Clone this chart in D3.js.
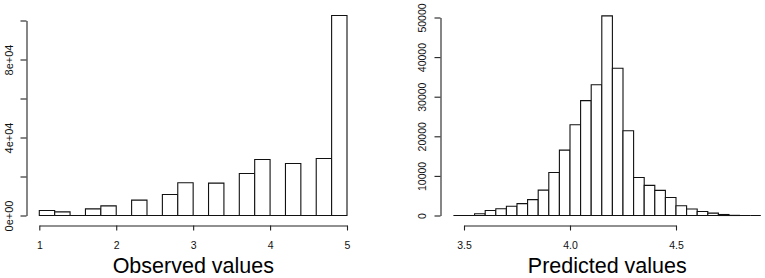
<!DOCTYPE html>
<html>
<head>
<meta charset="utf-8">
<script src="https://cdn.jsdelivr.net/npm/d3@7"></script>
<style>
  html, body { margin: 0; padding: 0; background: #fff; }
  svg { display: block; font-family: "Liberation Sans", Arial, sans-serif; }
</style>
</head>
<body>
<div id="chart"></div>
<script>
// observed: bins of 0.2 from 1 to 5
const obsStart = 1
const obsStep = 0.2
const obsCounts = [2560, 1880, 0, 3420, 4960, 0, 7870, 0, 10770, 16760,
  0, 16590, 0, 21550, 28730, 0, 26680, 0, 29240, 102600]
const obsXTicks = [1, 2, 3, 4, 5]
const obsYTicks = [0, 20000, 40000, 60000, 80000, 100000]
const obsYLabels = ['0e+00', '', '4e+04', '', '8e+04', '']

// predicted: bins of 0.05 from 3.45 to 4.9
const predStart = 3.45
const predStep = 0.05
const predCounts = [0, 0, 430, 1250, 1700, 2350, 3000, 4000, 6400, 10850,
  16500, 22900, 29000, 33000, 50400, 37200, 21400, 9600, 7600, 6350,
  4550, 2480, 1640, 1000, 600, 250, 40, 0, 0]
const predXTicks = [3.5, 4.0, 4.5]
const predYTicks = [0, 10000, 20000, 30000, 40000, 50000]

const titles = ['Observed values', 'Predicted values']

const width = 765
const height = 278
const axisY = 225.5

const svg = d3.select('#chart').append('svg')
  .attr('width', width)
  .attr('height', height)

function panel(cfg) {
  const x = d3.scaleLinear().domain(cfg.xDomain).range(cfg.xRange)
  const y = d3.scaleLinear().domain(cfg.yDomain).range(cfg.yRange)
  const g = svg.append('g')

  const bins = cfg.counts.map((c, i) => ({
    x0: cfg.start + i * cfg.step,
    x1: cfg.start + (i + 1) * cfg.step,
    c,
  }))

  g.append('g')
    .selectAll('path')
    .data(bins)
    .join('path')
    .attr('d', (d) => `M${x(d.x0)},${y(0)}V${y(d.c)}H${x(d.x1)}V${y(0)}Z`)
    .attr('fill', '#fff')
    .attr('stroke', '#111')
    .attr('stroke-width', 1.1)

  // y axis (left, rotated labels like R)
  const yAxis = g.append('g')
    .attr('transform', `translate(${cfg.yAxisX},0)`)
    .call(d3.axisLeft(y).tickValues(cfg.yTicks).tickSize(6).tickSizeOuter(0)
      .tickFormat((v, i) => cfg.yLabels ? cfg.yLabels[i] : d3.format('d')(v)))
  yAxis.select('.domain').attr('stroke', '#222').attr('stroke-width', 1.1)
  yAxis.selectAll('.tick line').attr('stroke', '#222').attr('stroke-width', 1.1)
  yAxis.selectAll('.tick text')
    .attr('transform', 'rotate(-90)')
    .attr('x', 0)
    .attr('y', -cfg.yLabelOff)
    .attr('dy', '0.35em')
    .attr('text-anchor', 'middle')
    .attr('font-size', cfg.yFont)
    .attr('fill', '#111')

  // x axis (detached below bars)
  const xAxis = g.append('g')
    .attr('transform', `translate(0,${axisY})`)
    .call(d3.axisBottom(x).tickValues(cfg.xTicks).tickSize(5).tickSizeOuter(0)
      .tickFormat(cfg.xFormat))
  xAxis.select('.domain').attr('stroke', '#222').attr('stroke-width', 1.1)
  xAxis.selectAll('.tick line').attr('stroke', '#222').attr('stroke-width', 1.1)
  xAxis.selectAll('.tick text')
    .attr('y', 23)
    .attr('dy', null)
    .attr('font-size', 10.5)
    .attr('fill', '#111')

  g.append('text')
    .attr('x', cfg.titleX)
    .attr('y', 273)
    .attr('text-anchor', 'middle')
    .attr('font-size', 21.5)
    .attr('fill', '#000')
    .text(cfg.title)
}

panel({
  start: obsStart, step: obsStep, counts: obsCounts,
  xDomain: [1, 5], xRange: [39.3, 347],
  yDomain: [0, 100000], yRange: [215.5, 20.5],
  yAxisX: 26.5, yTicks: obsYTicks, yLabels: obsYLabels, yLabelOff: 17, yFont: 11,
  xTicks: obsXTicks, xFormat: d3.format('d'),
  title: titles[0], titleX: 193.3,
})

panel({
  start: predStart, step: predStep, counts: predCounts,
  xDomain: [3.5, 4.5], xRange: [464, 676],
  yDomain: [0, 50000], yRange: [215.5, 17.5],
  yAxisX: 440.5, yTicks: predYTicks, yLabels: null, yLabelOff: 18.5, yFont: 10.5,
  xTicks: predXTicks, xFormat: d3.format('.1f'),
  title: titles[1], titleX: 607.3,
})
</script>
</body>
</html>
